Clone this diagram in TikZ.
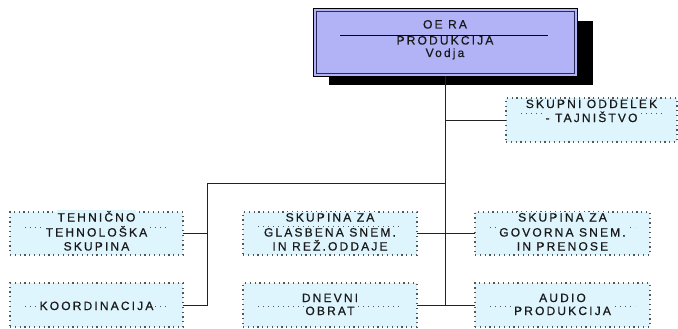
\documentclass[tikz,border=0pt]{standalone}
\usepackage{fontspec}
\setmainfont{Liberation Sans}
\newfontfamily\spfont[LetterSpace=18,FakeBold=0.6]{Liberation Sans}
\definecolor{boxcyan}{RGB}{222,245,253}
\definecolor{lav}{RGB}{178,178,246}
\definecolor{dotcol}{RGB}{85,85,85}
\definecolor{linecol}{RGB}{35,35,35}
\definecolor{navyline}{RGB}{40,40,90}
\begin{document}
\begin{tikzpicture}[x=1pt,y=-1pt,
  cbox/.style={draw=dotcol, dash pattern=on 1.2pt off 3.6pt, line width=1.1pt, fill=boxcyan, inner sep=0pt, outer sep=0pt},
  sepline/.style={draw=dotcol, dash pattern=on 1pt off 4pt, line width=0.9pt},
  txt/.style={font=\spfont\fontsize{12}{14}\selectfont, text=black!90, fill=boxcyan, inner sep=0.8pt, anchor=base},
  toptxt/.style={txt, fill=lav},
  conn/.style={draw=linecol, line width=1pt}]
\useasboundingbox (0,0) rectangle (678,329);
\fill[white] (0,0) rectangle (678,329);
% top box with shadow
\fill[black] (329,21) rectangle (593,85);
\node[draw=black, line width=0.8pt, fill=lav, minimum width=264pt, minimum height=68pt, inner sep=0pt, outer sep=0pt] (top) at (445,42) {};
\draw[navyline, line width=0.8pt] ([shift={(3pt,-3pt)}]top.north west) rectangle ([shift={(-3pt,3pt)}]top.south east);
\draw[black, line width=0.8pt] (340,35) -- (548,35);
\node[toptxt, fill=none] (ta) at (445,28.5) {OE RA};
\node[toptxt, fill=none] (tb) at (445,44.5) {PRODUKCIJA};
\node[toptxt, fill=none] (tc) at (445,57) {Vodja};
% boxes
\node[cbox, minimum width=171pt, minimum height=44pt] (skup) at (591.5,120) {};
\node[cbox, minimum width=173pt, minimum height=43pt] (teh) at (96.5,233.5) {};
\node[cbox, minimum width=173pt, minimum height=44pt] (koor) at (96.5,305) {};
\node[cbox, minimum width=174pt, minimum height=43pt] (glas) at (330,233.5) {};
\node[cbox, minimum width=174pt, minimum height=44pt] (dnev) at (330,305) {};
\node[cbox, minimum width=175pt, minimum height=43pt] (gov) at (562.5,233.5) {};
\node[cbox, minimum width=175pt, minimum height=44pt] (audio) at (562.5,305) {};
% faint separators
\foreach \b/\yy in {skup/113, teh/227, glas/226, gov/227, koor/306, dnev/306, audio/306}{
  \draw[sepline] ([xshift=15pt]\b.west |- 0,\yy) -- ([xshift=-15pt]\b.east |- 0,\yy);
}
% texts
\node[txt] (s1) at (591.5,108) {SKUPNI ODDELEK};
\node[txt] (s2) at (591.5,122) {- TAJNIŠTVO};
\node[txt] (h1) at (96.5,221.5) {TEHNIČNO};
\node[txt] (h2) at (96.5,236.5) {TEHNOLOŠKA};
\node[txt] (h3) at (96.5,250.5) {SKUPINA};
\node[txt] (k1) at (96.5,310) {KOORDINACIJA};
\node[txt] (g1) at (330,221.5) {SKUPINA ZA};
\node[txt] (g2) at (330,236.5) {GLASBENA SNEM.};
\node[txt] (g3) at (330,250.5) {IN REŽ.ODDAJE};
\node[txt] (d1) at (330,302) {DNEVNI};
\node[txt] (d2) at (330,315) {OBRAT};
\node[txt] (v1) at (562.5,221.5) {SKUPINA ZA};
\node[txt] (v2) at (562.5,236.5) {GOVORNA SNEM.};
\node[txt] (v3) at (562.5,250.5) {IN PRENOSE};
\node[txt] (a1) at (562.5,302) {AUDIO};
\node[txt] (a2) at (562.5,315) {PRODUKCIJA};
% connectors
\coordinate (jt) at (445,183);
\coordinate (jl) at (207,183);
\draw[conn] (top.south) -- (top.south |- dnev.east);
\draw[conn] (top.south |- skup.west) -- (skup.west);
\draw[conn] (jt) -- (jl) -- (jl |- koor.east) -- (koor.east);
\draw[conn] (teh.east) -- (jl |- teh.east);
\draw[conn] (glas.east) -- (gov.west);
\draw[conn] (dnev.east) -- (audio.west);
\end{tikzpicture}
\end{document}
